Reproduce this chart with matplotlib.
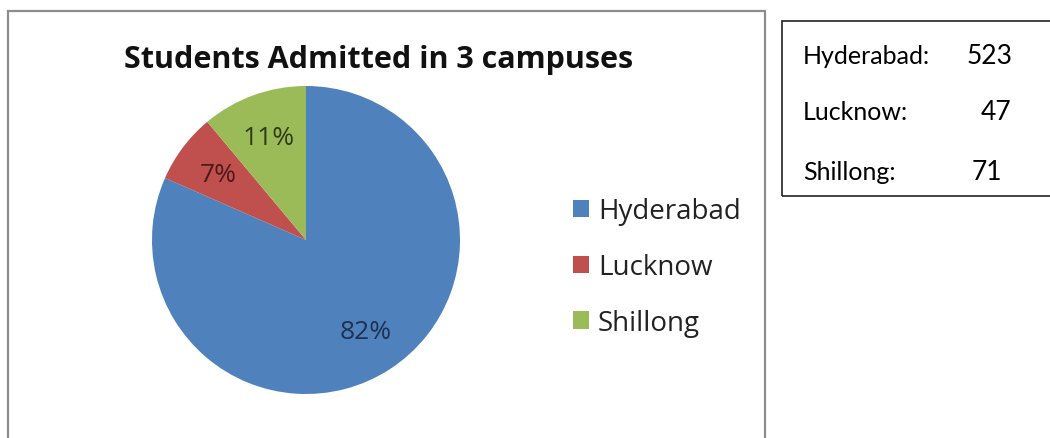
import numpy as np
import matplotlib
matplotlib.use('Agg')
import matplotlib.pyplot as plt
from matplotlib.patches import Rectangle, Patch

campuses = ['Hyderabad', 'Lucknow', 'Shillong']
students = [523, 47, 71]
colors = ['#4F81BD', '#C0504D', '#9BBB59']
label_colors = ['#1F3050', '#4A1A19', '#2E3B16']
title = 'Students Admitted in 3 campuses'

plt.rcParams['font.family'] = ['Open Sans', 'DejaVu Sans']

W, H = 1050, 439
fig = plt.figure(figsize=(W / 100, H / 100), dpi=100)

# chart frame (bottom edge runs off the picture)
fig.add_artist(Rectangle((8 / W, -0.2), (765 - 8) / W, (H - 12) / H + 0.2,
                         transform=fig.transFigure, fill=False,
                         edgecolor='#8c8c8c', lw=1.6, clip_on=False))

ax = fig.add_axes([(306 - 154) / W, (H - 395) / H, 308 / W, 308 / H])
wedges, texts, autotexts = ax.pie(students, colors=colors, startangle=90,
                                  counterclock=False, autopct='%1.0f%%',
                                  pctdistance=0.71,
                                  wedgeprops=dict(edgecolor='none'),
                                  textprops=dict(fontsize=19))
for t, c in zip(autotexts, label_colors):
    t.set_color(c)
ax.set_xlim(-1, 1)
ax.set_ylim(-1, 1)
ax.set_aspect('equal')

fig.text(379 / W, 1 - 60 / H, title, ha='center', va='center',
         fontsize=22, fontweight='bold', color='#111111')

handles = [Patch(facecolor=c, edgecolor='none') for c in colors]
fig.legend(handles, campuses, loc='center left',
           bbox_to_anchor=(573 / W, 1 - 268 / H), frameon=False,
           borderpad=0, borderaxespad=0,
           fontsize=20, handlelength=0.58, handleheight=0.58,
           handletextpad=0.32, labelspacing=1.0, labelcolor='#222222')

# side box with counts
fig.add_artist(Rectangle((782 / W, 1 - 197 / H), 300 / W, 175 / H,
                         transform=fig.transFigure, fill=False,
                         edgecolor='#222222', lw=1.2, clip_on=False))
num_x = [967, 981, 972]
rows_y = [56, 113, 172]
for name, n, nx, ry in zip(campuses, students, num_x, rows_y):
    fig.text(803 / W, 1 - ry / H, name + ':', ha='left', va='center',
             fontsize=18, color='black', family=['Lato', 'DejaVu Sans'])
    fig.text(nx / W, 1 - ry / H, str(n), ha='left', va='center',
             fontsize=19, color='black', family=['Lato', 'DejaVu Sans'])

fig.savefig('out.png', dpi=100, facecolor='white')
